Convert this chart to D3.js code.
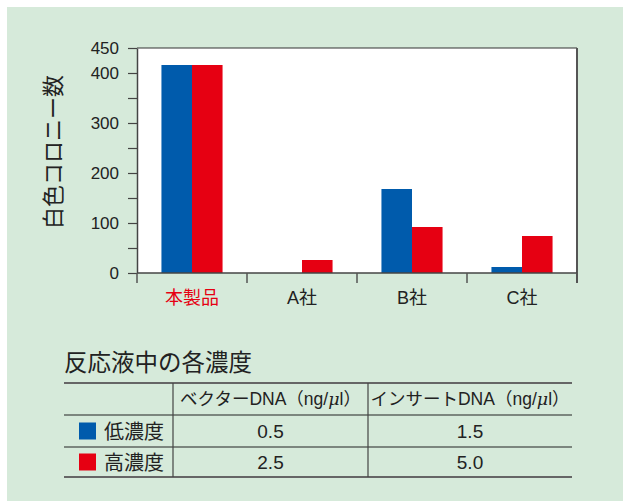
<!DOCTYPE html>
<html>
<head>
<meta charset="utf-8">
<script src="https://cdn.jsdelivr.net/npm/d3@7"></script>
<style>
  body { margin: 0; background: #fff; }
  svg text { font-family: "Liberation Sans", Arial, "Noto Sans CJK JP", sans-serif; }
</style>
</head>
<body>
<div id="chart"></div>
<script>
// chart data
const categories = ["本製品", "A社", "B社", "C社"];
const seriesNames = ["低濃度", "高濃度"];
const lowValues = [416, 0, 168, 12];
const highValues = [416, 26, 92, 74];
const yTicks = [0, 100, 200, 300, 400, 450];
const yMinorTicks = [50, 150, 250, 350];

// concentration table
const tableTitle = "反応液中の各濃度";
const tableHeaders = ["ベクターDNA（ng/", "インサートDNA（ng/"];
const unitTail = "l）";
const vectorDNA = ["0.5", "2.5"];
const insertDNA = ["1.5", "5.0"];

const colors = { "低濃度": "#005bac", "高濃度": "#e60012" };

const W = 623, H = 501;
const svg = d3.select("#chart").append("svg")
    .attr("width", W)
    .attr("height", H);

// green panel
svg.append("rect")
    .attr("x", 7).attr("y", 7)
    .attr("width", W - 7).attr("height", H - 7)
    .attr("fill", "#d6eada");

// plot area
const plot = { left: 137, right: 577, top: 48, bottom: 273 };

const x = d3.scaleBand()
    .domain(categories)
    .range([plot.left, plot.right])
    .padding(0);

const xSub = d3.scaleBand()
    .domain(seriesNames)
    .range([0, x.bandwidth()])
    .paddingInner(0)
    .paddingOuter(0.8);

const y = d3.scaleLinear()
    .domain([0, 450])
    .range([plot.bottom, plot.top]);

svg.append("rect")
    .attr("x", plot.left).attr("y", plot.top)
    .attr("width", plot.right - plot.left)
    .attr("height", plot.bottom - plot.top)
    .attr("fill", "#fff");

// top and right frame
svg.append("line")
    .attr("x1", plot.left).attr("x2", plot.right)
    .attr("y1", plot.top).attr("y2", plot.top)
    .attr("stroke", "#333").attr("stroke-width", 1.2);
svg.append("line")
    .attr("x1", plot.right).attr("x2", plot.right)
    .attr("y1", plot.top).attr("y2", plot.bottom + 10)
    .attr("stroke", "#555").attr("stroke-width", 2);

// bars
const rows = categories.map((c, i) => ({ cat: c, values: [
    { key: "低濃度", value: lowValues[i] },
    { key: "高濃度", value: highValues[i] }
]}));

svg.append("g")
    .selectAll("g")
    .data(rows)
    .join("g")
    .attr("transform", d => `translate(${x(d.cat)},0)`)
    .selectAll("rect")
    .data(d => d.values)
    .join("rect")
    .attr("x", d => xSub(d.key))
    .attr("y", d => y(d.value))
    .attr("width", xSub.bandwidth())
    .attr("height", d => y(0) - y(d.value))
    .attr("fill", d => colors[d.key]);

// y axis
const yAxis = svg.append("g")
    .attr("transform", `translate(${plot.left},0)`)
    .call(d3.axisLeft(y).tickValues(yTicks).tickSize(9).tickPadding(9).tickSizeOuter(0));
yAxis.select(".domain").attr("stroke", "#444").attr("stroke-width", 1.5);
yAxis.selectAll(".tick line").attr("stroke", "#444").attr("stroke-width", 1.2);
yAxis.selectAll(".tick text").attr("font-size", 17).attr("fill", "#222")
    .attr("font-family", "'Liberation Sans', Arial, sans-serif");

svg.append("g")
    .attr("transform", `translate(${plot.left},0)`)
    .call(d3.axisLeft(y).tickValues(yMinorTicks).tickSize(9).tickFormat(""))
    .call(g => g.select(".domain").remove())
    .selectAll(".tick line").attr("stroke", "#444").attr("stroke-width", 1.2);

// x axis
const xEdges = categories.map(c => x(c)).concat([plot.right]);
const xAxis = svg.append("g").attr("class", "x-axis");
xAxis.append("line")
    .attr("x1", plot.left).attr("x2", plot.right)
    .attr("y1", plot.bottom).attr("y2", plot.bottom)
    .attr("stroke", "#444").attr("stroke-width", 1.5);
xAxis.selectAll("line.tick")
    .data(xEdges)
    .join("line")
    .attr("class", "tick")
    .attr("x1", d => d).attr("x2", d => d)
    .attr("y1", plot.bottom).attr("y2", plot.bottom + 10)
    .attr("stroke", "#555").attr("stroke-width", 1.5);
xAxis.selectAll("text")
    .data(categories)
    .join("text")
    .attr("x", d => x(d) + x.bandwidth() / 2)
    .attr("y", 304)
    .attr("text-anchor", "middle")
    .attr("font-size", 18)
    .attr("fill", (d, i) => i === 0 ? "#e60012" : "#222")
    .text(d => d);

// y label
svg.append("text")
    .attr("transform", "rotate(-90)")
    .attr("x", -152)
    .attr("y", 61)
    .attr("text-anchor", "middle")
    .attr("font-size", 22)
    .attr("fill", "#222")
    .attr("font-family", "'Noto Sans CJK JP', sans-serif")
    .text("白色コロニー数");

// table
const tbl = { left: 64, right: 572, col1: 173, col2: 368,
              rowsY: [383, 415, 447, 477] };

svg.append("text")
    .attr("x", 64).attr("y", 371)
    .attr("font-size", 23.5)
    .attr("fill", "#222")
    .attr("font-family", "'Noto Sans CJK JP', sans-serif")
    .text(tableTitle);

const t = svg.append("g");
tbl.rowsY.forEach((ry, i) => {
    const outer = i === 0 || i === tbl.rowsY.length - 1;
    t.append("line")
        .attr("x1", tbl.left).attr("x2", tbl.right)
        .attr("y1", ry).attr("y2", ry)
        .attr("stroke", outer ? "#666" : "#222")
        .attr("stroke-width", outer ? 2 : 1.2);
});
[tbl.col1, tbl.col2].forEach(cx => {
    t.append("line")
        .attr("x1", cx).attr("x2", cx)
        .attr("y1", tbl.rowsY[0]).attr("y2", tbl.rowsY[3])
        .attr("stroke", "#444").attr("stroke-width", 1.2);
});

const colCenters = [(tbl.col1 + tbl.col2) / 2, (tbl.col2 + tbl.right) / 2];
const hdr = t.selectAll("text.hdr")
    .data(tableHeaders)
    .join("text")
    .attr("class", "hdr")
    .attr("x", (d, i) => colCenters[i])
    .attr("y", 405)
    .attr("text-anchor", "middle")
    .attr("font-size", 17.5)
    .attr("fill", "#222");
hdr.append("tspan").text(d => d);
hdr.append("tspan").attr("font-style", "italic").attr("font-family", "'DejaVu Serif', serif").text("μ");
hdr.append("tspan").text(unitTail);

const tableRows = seriesNames.map((s, i) => ({ name: s, vals: [vectorDNA[i], insertDNA[i]] }));
tableRows.forEach((r, i) => {
    const top = tbl.rowsY[i + 1], bot = tbl.rowsY[i + 2];
    const cy = (top + bot) / 2;
    t.append("rect")
        .attr("x", 79).attr("y", cy - 8.5)
        .attr("width", 17).attr("height", 17)
        .attr("fill", colors[r.name]);
    t.append("text")
        .attr("x", 104).attr("y", cy + 7.5)
        .attr("font-size", 20)
        .attr("fill", "#222")
        .attr("font-family", "'Noto Sans CJK JP', sans-serif")
        .text(r.name);
    r.vals.forEach((v, j) => {
        t.append("text")
            .attr("x", colCenters[j]).attr("y", cy + 7)
            .attr("text-anchor", "middle")
            .attr("font-size", 19)
            .attr("fill", "#222")
            .text(v);
    });
});
</script>
</body>
</html>
